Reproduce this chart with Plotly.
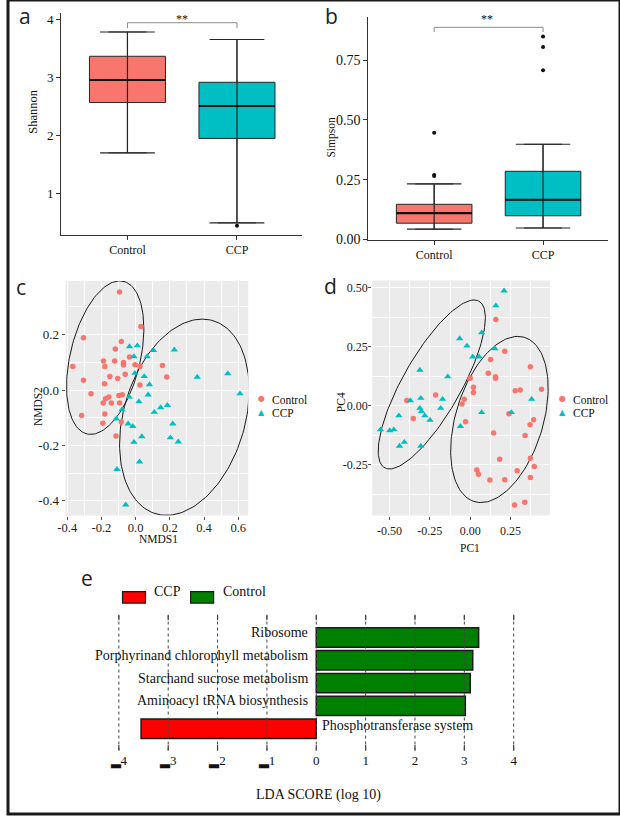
import numpy as np
import plotly.graph_objects as go

W, H = 620, 821
SERIF = "Liberation Serif, Times New Roman, serif"
SANS = "Open Sans, Liberation Sans, sans-serif"

# ---------------- data ----------------
groups = ["Control", "CCP"]
group_colors = ["#F8766D", "#00BFC4"]

# a: Shannon boxplot statistics
shannon_lower = [1.70, 0.49]
shannon_q1 = [2.57, 1.95]
shannon_median = [2.96, 2.51]
shannon_q3 = [3.37, 2.92]
shannon_upper = [3.79, 3.66]
shannon_outlier_group = [1]
shannon_outlier_value = [0.44]
shannon_sig_y = 3.95

# b: Simpson boxplot statistics
simpson_lower = [0.043, 0.048]
simpson_q1 = [0.068, 0.099]
simpson_median = [0.110, 0.166]
simpson_q3 = [0.147, 0.285]
simpson_upper = [0.232, 0.398]
simpson_outlier_group = [0, 0, 0, 1, 1, 1]
simpson_outlier_value = [0.265, 0.270, 0.446, 0.707, 0.805, 0.849]
simpson_sig_y = 0.887

# c: NMDS
nmds_ctrl_x = [-0.094, 0.031, -0.305, -0.084, -0.119, -0.036, -0.368, -0.188, -0.180,
               -0.123, -0.071, -0.071, -0.004, 0.025, 0.157, 0.182, -0.151, -0.105,
               -0.061, -0.305, -0.182, 0.025, -0.261, -0.157, -0.176, -0.098, -0.078,
               -0.142, -0.190, -0.094, -0.316, -0.180, -0.192, -0.084, -0.115]
nmds_ctrl_y = [0.354, 0.229, 0.189, 0.175, 0.148, 0.119, 0.085, 0.105, 0.085,
               0.105, 0.099, 0.090, 0.091, 0.085, 0.089, 0.047, 0.049, 0.042,
               0.057, 0.035, 0.023, 0.018, -0.013, -0.025, -0.031, -0.020, -0.017,
               -0.047, -0.047, -0.047, -0.092, -0.086, -0.120, -0.115, -0.166]
nmds_ccp_x = [-0.036, 0.010, 0.105, 0.226, -0.010, 0.067, -0.004, 0.050, 0.360, 0.539,
              0.081, 0.610, 0.073, -0.038, 0.019, -0.080, 0.186, 0.146, 0.109, -0.113,
              -0.044, -0.017, 0.217, 0.036, 0.203, 0.249, -0.010, 0.023, -0.109, -0.058]
nmds_ccp_y = [0.157, 0.160, 0.143, 0.145, 0.121, 0.121, 0.061, 0.049, 0.047, 0.059,
              0.020, -0.013, -0.017, -0.025, -0.042, -0.071, -0.055, -0.063, -0.080, -0.104,
              -0.122, -0.131, -0.122, -0.168, -0.172, -0.187, -0.188, -0.259, -0.286, -0.414]
# ellipses [Control, CCP]: centre, top-vertex offset, half width
nmds_ell_cx = [-0.178, 0.285]
nmds_ell_cy = [0.117, -0.098]
nmds_ell_top_dx = [0.085, 0.105]
nmds_ell_top_dy = [0.277, 0.354]
nmds_ell_halfwidth = [0.226, 0.379]

# d: PCoA
pcoa_ctrl_x = [0.159, 0.214, 0.126, 0.373, 0.112, 0.157, 0.157, 0.000, 0.020, 0.020,
               -0.214, 0.279, 0.310, 0.442, -0.393, -0.037, -0.051, -0.353, -0.029, 0.240,
               0.145, 0.371, 0.393, 0.340, 0.183, 0.373, 0.397, 0.291, 0.041, 0.051,
               0.122, 0.214, 0.373, 0.275, 0.338]
pcoa_ctrl_y = [0.365, 0.230, 0.196, 0.165, 0.137, 0.123, 0.116, 0.116, 0.078, 0.056,
               0.046, 0.063, 0.067, 0.070, 0.022, 0.028, 0.008, -0.054, -0.068, -0.034,
               -0.115, -0.080, -0.059, -0.126, -0.226, -0.222, -0.257, -0.275, -0.271, -0.289,
               -0.314, -0.313, -0.303, -0.419, -0.408]
pcoa_ccp_x = [0.210, 0.159, 0.071, -0.065, -0.020, 0.016, 0.055, 0.153, -0.312, -0.139,
              -0.312, -0.302, -0.281, -0.249, -0.183, -0.306, -0.371, -0.442, -0.556, -0.499,
              -0.473, -0.438, -0.408, -0.306, -0.171, -0.061, 0.071, 0.255, 0.381]
pcoa_ccp_y = [0.486, 0.423, 0.309, 0.284, 0.253, 0.207, 0.207, 0.242, 0.151, 0.123,
              -0.010, -0.024, -0.042, -0.061, -0.010, 0.032, 0.022, -0.042, -0.101, -0.105,
              -0.101, -0.170, -0.154, -0.170, 0.028, -0.087, -0.028, -0.028, 0.028]
pcoa_ell_cx = [0.181, -0.238]
pcoa_ell_cy = [-0.058, 0.090]
pcoa_ell_top_dx = [0.114, 0.262]
pcoa_ell_top_dy = [0.351, 0.357]
pcoa_ell_halfwidth = [0.302, 0.332]

# e: LEfSe
lda_features = ["Ribosome", "Porphyrinand chlorophyll metabolism",
                "Starchand sucrose metabolism", "Aminoacyl tRNA biosynthesis",
                "Phosphotransferase system"]
lda_scores = [3.29, 3.17, 3.12, 3.02, -3.55]
lda_groups = ["Control", "Control", "Control", "Control", "CCP"]
lda_colors = {"CCP": "#FF0000", "Control": "#008000"}
lda_ticks = [-4, -3, -2, -1, 0, 1, 2, 3, 4]
lda_ticktext = ["\u25824", "\u25823", "\u25822", "\u25821", "0", "1", "2", "3", "4"]


def dom_x(left, right):
    return [left / W, right / W]


def dom_y(top, bottom):
    return [1 - bottom / H, 1 - top / H]


def ellipse(cx, cy, ux, uy, hw, n=160):
    vx = np.sqrt(max(hw ** 2 - ux ** 2, 1e-6))
    t = np.linspace(0, 2 * np.pi, n)
    return cx + ux * np.cos(t) + vx * np.sin(t), cy + uy * np.cos(t)


fig = go.Figure()

BOX_W = 0.694
CAP = 0.25
LINE = "#262626"


def add_box_panel(xa, ya, lower, q1, med, q3, upper, out_g, out_v, sig_y, sig_tick):
    for i, name in enumerate(groups):
        fig.add_trace(go.Box(
            x=[i], q1=[q1[i]], median=[med[i]], q3=[q3[i]],
            lowerfence=[lower[i]], upperfence=[upper[i]],
            width=BOX_W, whiskerwidth=0.5, fillcolor=group_colors[i],
            line=dict(color=LINE, width=1), boxpoints=False,
            xaxis=xa, yaxis=ya, showlegend=False, hoverinfo="skip"))
        fig.add_trace(go.Scatter(
            x=[i - CAP, i + CAP, None, i, i, None, i - CAP, i + CAP],
            y=[lower[i], lower[i], None, lower[i], upper[i], None, upper[i], upper[i]],
            mode="lines", line=dict(color=LINE, width=1.2),
            xaxis=xa, yaxis=ya, showlegend=False, hoverinfo="skip"))
        fig.add_trace(go.Scatter(
            x=[i - BOX_W / 2, i + BOX_W / 2], y=[med[i], med[i]],
            mode="lines", line=dict(color="#111", width=2.2),
            xaxis=xa, yaxis=ya, showlegend=False, hoverinfo="skip"))
    fig.add_trace(go.Scatter(
        x=out_g, y=out_v, mode="markers", marker=dict(color="#111", size=4),
        xaxis=xa, yaxis=ya, showlegend=False, hoverinfo="skip"))
    # significance bracket
    fig.add_trace(go.Scatter(
        x=[0, 0, 1, 1], y=[sig_y - sig_tick, sig_y, sig_y, sig_y - sig_tick],
        mode="lines", line=dict(color="#8c8c8c", width=1),
        xaxis=xa, yaxis=ya, showlegend=False, hoverinfo="skip"))


add_box_panel("x", "y", shannon_lower, shannon_q1, shannon_median, shannon_q3,
              shannon_upper, shannon_outlier_group, shannon_outlier_value, shannon_sig_y, 0.095)
add_box_panel("x2", "y2", simpson_lower, simpson_q1, simpson_median, simpson_q3,
              simpson_upper, simpson_outlier_group, simpson_outlier_value, simpson_sig_y, 0.02)


def add_ord_panel(xa, ya, cx, cy, tx, ty, ex, ey, edx, edy, ehw):
    for k in range(2):
        ellx, elly = ellipse(ex[k], ey[k], edx[k], edy[k], ehw[k])
        fig.add_trace(go.Scatter(x=ellx, y=elly, mode="lines",
                                 line=dict(color="#1a1a1a", width=1),
                                 xaxis=xa, yaxis=ya, showlegend=False, hoverinfo="skip"))
    fig.add_trace(go.Scatter(x=cx, y=cy, mode="markers", name="Control",
                             marker=dict(color=group_colors[0], size=5.5, symbol="circle"),
                             xaxis=xa, yaxis=ya, showlegend=False))
    fig.add_trace(go.Scatter(x=tx, y=ty, mode="markers", name="CCP",
                             marker=dict(color=group_colors[1], size=6.5, symbol="triangle-up"),
                             xaxis=xa, yaxis=ya, showlegend=False))


add_ord_panel("x3", "y3", nmds_ctrl_x, nmds_ctrl_y, nmds_ccp_x, nmds_ccp_y,
              nmds_ell_cx, nmds_ell_cy, nmds_ell_top_dx, nmds_ell_top_dy, nmds_ell_halfwidth)
add_ord_panel("x4", "y4", pcoa_ctrl_x, pcoa_ctrl_y, pcoa_ccp_x, pcoa_ccp_y,
              pcoa_ell_cx, pcoa_ell_cy, pcoa_ell_top_dx, pcoa_ell_top_dy, pcoa_ell_halfwidth)

# e: LDA bars
fig.add_trace(go.Bar(
    x=lda_scores, y=lda_features, orientation="h", width=0.85,
    marker=dict(color=[lda_colors[g] for g in lda_groups], line=dict(color="#1a1a1a", width=1.5)),
    xaxis="x5", yaxis="y5", showlegend=False, hoverinfo="skip"))

# ---------------- axes ----------------
box_ax = dict(showline=True, linecolor="#333", linewidth=1.2, ticks="outside", ticklen=4,
              tickcolor="#333", showgrid=False, zeroline=False)
ord_ax = dict(showline=False, ticks="outside", ticklen=3, tickcolor="#555",
              showgrid=True, gridcolor="white", gridwidth=1.1, zeroline=False)

fig.update_layout(
    width=W, height=H, margin=dict(l=0, r=0, t=0, b=0),
    paper_bgcolor="white", plot_bgcolor="white", showlegend=False,
    xaxis=dict(domain=dom_x(54, 298), range=[-0.604, 1.595], anchor="y",
               tickmode="array", tickvals=[0, 1], ticktext=groups,
               tickfont=dict(family=SERIF, size=12, color="#111"), **box_ax),
    yaxis=dict(domain=dom_y(13, 237), range=[0.28, 4.12], anchor="x",
               tickmode="array", tickvals=[1, 2, 3, 4],
               tickfont=dict(family=SERIF, size=13, color="#111"), **box_ax),
    xaxis2=dict(domain=dom_x(365, 608), range=[-0.605, 1.598], anchor="y2",
                tickmode="array", tickvals=[0, 1], ticktext=groups,
                tickfont=dict(family=SERIF, size=12, color="#111"), **box_ax),
    yaxis2=dict(domain=dom_y(16.7, 242), range=[-0.002, 0.932], anchor="x2",
                tickmode="array", tickvals=[0, 0.25, 0.5, 0.75],
                ticktext=["0.00", "0.25", "0.50", "0.75"],
                tickfont=dict(family=SERIF, size=14, color="#111"), **box_ax),
    xaxis3=dict(domain=dom_x(58.3, 243.3), range=[-0.41, 0.658], anchor="y3",
                tickmode="array", tickvals=[-0.4, -0.2, 0, 0.2, 0.4, 0.6],
                ticktext=["-0.4", "-0.2", "0.0", "0.2", "0.4", "0.6"],
                minor=dict(tickvals=[-0.3, -0.1, 0.1, 0.3, 0.5], showgrid=True,
                           gridcolor="white", gridwidth=0.5, ticks=""),
                ticklabelstandoff=-3,
                tickfont=dict(family=SERIF, size=12.5, color="#222"), **ord_ax),
    yaxis3=dict(domain=dom_y(283.3, 520), range=[-0.453, 0.394], anchor="x3",
                tickmode="array", tickvals=[-0.4, -0.2, 0, 0.2],
                ticktext=["-0.4", "-0.2", "0.0", "0.2"],
                minor=dict(tickvals=[-0.3, -0.1, 0.1, 0.3], showgrid=True,
                           gridcolor="white", gridwidth=0.5, ticks=""),
                tickfont=dict(family=SERIF, size=13, color="#222"), **ord_ax),
    xaxis4=dict(domain=dom_x(369, 549), range=[-0.607, 0.494], anchor="y4",
                tickmode="array", tickvals=[-0.5, -0.25, 0, 0.25],
                ticktext=["-0.50", "-0.25", "0.00", "0.25"],
                minor=dict(tickvals=[-0.375, -0.125, 0.125, 0.375], showgrid=True,
                           gridcolor="white", gridwidth=0.5, ticks=""),
                ticklabelstandoff=1,
                tickfont=dict(family=SERIF, size=12, color="#222"), **ord_ax),
    yaxis4=dict(domain=dom_y(283, 520), range=[-0.464, 0.529], anchor="x4",
                tickmode="array", tickvals=[-0.25, 0, 0.25, 0.5],
                ticktext=["-0.25", "0.00", "0.25", "0.50"],
                minor=dict(tickvals=[-0.375, -0.125, 0.125, 0.375], showgrid=True,
                           gridcolor="white", gridwidth=0.5, ticks=""),
                ticklabelstandoff=-2,
                tickfont=dict(family=SERIF, size=12, color="#222"), **ord_ax),
    xaxis5=dict(domain=dom_x(100, 530), range=[-4.246, 4.354], anchor="y5",
                tickmode="array", tickvals=lda_ticks, ticktext=lda_ticktext,
                showline=False, showgrid=False, zeroline=False, ticks="",
                tickfont=dict(family=SERIF, size=13, color="#111")),
    yaxis5=dict(domain=dom_y(620, 757), range=[-0.957, 5.0], anchor="x5",
                type="category", categoryorder="array",
                categoryarray=list(reversed(lda_features)),
                visible=False),
)

# ---------------- shapes ----------------
shapes = []
for xa, ya in (("x3", "y3"), ("x4", "y4")):
    shapes.append(dict(type="rect", xref=f"{xa} domain", yref=f"{ya} domain",
                       x0=0, x1=1, y0=0, y1=1, fillcolor="#EBEBEB",
                       line=dict(width=0), layer="below"))
for v in lda_ticks:
    shapes.append(dict(type="line", xref="x5", yref="y5 domain", x0=v, x1=v, y0=0, y1=1,
                       line=dict(color="#444", width=1, dash="dot"), layer="above"))
    for y0, y1 in ((0, 0.04), (0.96, 1)):
        shapes.append(dict(type="line", xref="x5", yref="y5 domain", x0=v, x1=v,
                           y0=y0, y1=y1, line=dict(color="#444", width=1.2), layer="above"))
# LEfSe legend swatches
for (l, r), g in (((116, 139.3), "CCP"), ((185, 208.3), "Control")):
    shapes.append(dict(type="rect", xref="paper", yref="paper",
                       x0=l / W, x1=r / W, y0=1 - 608.3 / H, y1=1 - 596.7 / H,
                       fillcolor=lda_colors[g], line=dict(color="#1a1a1a", width=1.2)))
# outer border
shapes.append(dict(type="rect", xref="paper", yref="paper", x0=0, x1=1, y0=0, y1=1,
                   line=dict(color="#1a1a1a", width=3), fillcolor="rgba(0,0,0,0)"))
fig.update_layout(shapes=shapes)

# ---------------- annotations ----------------
ann = []


def txt(text, x, y, size, family=SERIF, angle=0, xanchor="center", color="#111"):
    ann.append(dict(text=text, x=x / W, y=1 - y / H, xref="paper", yref="paper",
                    showarrow=False, textangle=angle, xanchor=xanchor, yanchor="middle",
                    font=dict(family=family, size=size, color=color)))


for letter, lx, ly in (("a", 17, 16), ("b", 328, 16), ("c", 13, 289),
                       ("d", 327, 288), ("e", 80, 583)):
    txt(letter, lx, ly, 21, family=SANS, color="#222")

txt("Shannon", 25, 112, 12.5, angle=-90)
txt("Simpson", 328, 138, 11.5, angle=-90)
txt("NMDS2", 30, 410, 11.5, angle=-90)
txt("NMDS1", 152.5, 544, 11.5)
txt("PC4", 337, 406, 11.5, angle=-90)
txt("PC1", 468.5, 553, 11.5)
txt("**", 176, 19, 12)
txt("**", 485, 19, 12)

# ordination legends
for lx, tx0 in ((257, 265), (562, 570)):
    txt("\u25cf", lx, 402, 8, family="DejaVu Sans", color=group_colors[0])
    txt("\u25b2", lx, 416.5, 8, family="DejaVu Sans", color=group_colors[1])
    txt(groups[0], tx0, 403.5, 11.5, xanchor="left")
    txt(groups[1], tx0, 417, 11.5, xanchor="left")

# LEfSe legend text and axis title
txt("CCP", 146, 597, 14, xanchor="left")
txt("Control", 216, 597, 14, xanchor="left")
txt("LDA SCORE (log 10)", 315, 802, 14)

# feature labels next to bars
for feat, score in zip(lda_features, lda_scores):
    ann.append(dict(text=feat, x=0, y=feat, xref="x5", yref="y5", showarrow=False,
                    xanchor="right" if score > 0 else "left", yanchor="middle",
                    xshift=-6 if score > 0 else 4, yshift=5 if score > 0 else 3,
                    font=dict(family=SERIF, size=14, color="#111")))

fig.update_layout(annotations=ann)

fig.write_html("out.html", config={"displayModeBar": False},
               post_script="document.body.style.margin='0';"
                           "document.documentElement.style.overflow='hidden';")
